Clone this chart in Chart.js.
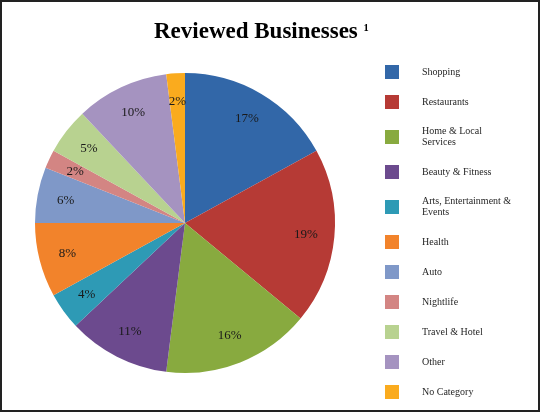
<!DOCTYPE html>
<html>
<head>
<meta charset="utf-8">
<script src="https://cdn.jsdelivr.net/npm/chart.js@4.4.0/dist/chart.umd.min.js"></script>
<style>
  html, body { margin: 0; padding: 0; background: #fff; }
  #wrap { width: 540px; height: 412px; }
</style>
</head>
<body>
<div id="wrap"><canvas id="businesses" width="540" height="412"></canvas></div>
<script>
const categories = ['Shopping', 'Restaurants', 'Home & Local Services', 'Beauty & Fitness',
  'Arts, Entertainment & Events', 'Health', 'Auto', 'Nightlife', 'Travel & Hotel', 'Other', 'No Category'];
const shares = [17, 19, 16, 11, 4, 8, 6, 2, 5, 10, 2];
const sliceColors = ['#3267a8', '#b63a35', '#88aa3f', '#6c4a8e', '#2e9ab5', '#f2832b',
  '#7f98c8', '#d38583', '#b8d290', '#a593c0', '#faab1e'];
const chartTitle = 'Reviewed Businesses';
const titleNote = '\u00b9';

const serif = '"Liberation Serif", "Times New Roman", serif';

// splits a legend label into lines no wider than maxW
function wrapText(ctx, text, maxW) {
  let words = text.split(' ');
  let lines = [];
  let cur = '';
  words.forEach(w => {
    let test = cur ? cur + ' ' + w : w;
    if (cur && ctx.measureText(test).width > maxW) {
      lines.push(cur);
      cur = w;
    } else {
      cur = test;
    }
  });
  if (cur) lines.push(cur);
  return lines;
}

const decor = {
  id: 'decor',
  afterDraw(chart) {
    const ctx = chart.ctx;
    const meta = chart.getDatasetMeta(0);
    const total = shares.reduce((a, b) => a + b, 0);
    ctx.save();

    // percentage labels inside slices
    ctx.font = '13px ' + serif;
    ctx.fillStyle = '#1a1a1a';
    ctx.textAlign = 'center';
    ctx.textBaseline = 'middle';
    meta.data.forEach((arc, i) => {
      const p = arc.getProps(['x', 'y', 'startAngle', 'endAngle', 'outerRadius'], true);
      const mid = (p.startAngle + p.endAngle) / 2;
      const r = p.outerRadius * 0.81;
      ctx.fillText(Math.round(shares[i] / total * 100) + '%', p.x + Math.cos(mid) * r, p.y + Math.sin(mid) * r);
    });

    // title with a small footnote mark
    ctx.textAlign = 'left';
    ctx.textBaseline = 'alphabetic';
    ctx.font = 'bold 23px ' + serif;
    const tw = ctx.measureText(chartTitle).width;
    const tx = 154;
    ctx.fillStyle = '#000';
    ctx.fillText(chartTitle, tx, 38);
    ctx.font = 'bold 17px ' + serif;
    ctx.fillText(titleNote, tx + tw + 6, 36);

    // legend
    ctx.font = '10px ' + serif;
    ctx.textBaseline = 'middle';
    let y = 57;
    categories.forEach((label, i) => {
      const lines = wrapText(ctx, label, 90);
      const h = lines.length > 1 ? 40 : 30;
      const cy = y + h / 2;
      ctx.fillStyle = sliceColors[i];
      ctx.fillRect(385, cy - 7, 14, 14);
      ctx.fillStyle = '#262626';
      const lh = 11;
      lines.forEach((ln, k) => {
        ctx.fillText(ln, 422, cy + (k - (lines.length - 1) / 2) * lh);
      });
      y += h;
    });

    // outer frame
    ctx.strokeStyle = '#222';
    ctx.lineWidth = 2;
    ctx.strokeRect(1, 1, 538, 410);
    ctx.restore();
  }
};

new Chart(document.getElementById('businesses'), {
  type: 'pie',
  data: {
    labels: categories,
    datasets: [{
      data: shares,
      backgroundColor: sliceColors,
      borderWidth: 0
    }]
  },
  options: {
    responsive: false,
    animation: false,
    layout: { padding: { left: 35, right: 205, top: 73, bottom: 39 } },
    plugins: {
      legend: { display: false },
      title: { display: false },
      tooltip: { enabled: false }
    }
  },
  plugins: [decor]
});
</script>
</body>
</html>
